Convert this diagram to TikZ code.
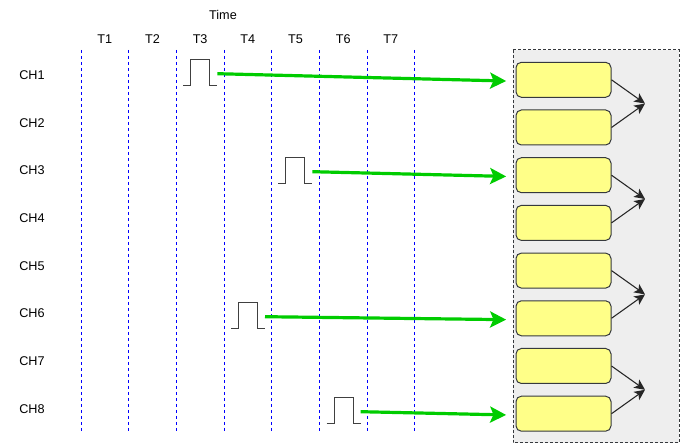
\documentclass[tikz,border=0pt]{standalone}
\usepackage{fontspec}
\setmainfont{Liberation Sans}
\usetikzlibrary{arrows.meta}
\definecolor{sigline}{HTML}{00CC00}
\definecolor{boxfill}{HTML}{FFFF88}
\definecolor{boxline}{HTML}{36393D}
\definecolor{panelfill}{HTML}{EEEEEE}
\definecolor{gridblue}{HTML}{0000FF}
\begin{document}
\begin{tikzpicture}[x=0.75pt,y=-0.75pt,
  lbl/.style={font=\fontsize{9.5}{11}\selectfont, inner sep=0pt},
  tline/.style={draw=gridblue, line width=0.75pt, dash pattern=on 2.25pt off 2.25pt},
  pulse/.style={draw=black!75, line width=0.9pt},
  sig/.style={draw=sigline, line width=2.4pt, -{Stealth[length=12pt,width=12pt,inset=2.5pt]}, shorten >=7pt},
  chbox/.style={draw=boxline, fill=boxfill, rounded corners=4pt, minimum width=71.25pt, minimum height=26.25pt, line width=0.75pt, inner sep=0pt},
  merge/.style={draw=black!85, line width=0.8pt, -{Stealth[length=8pt,width=7.5pt,inset=2pt]}},
  panel/.style={draw=boxline, fill=panelfill, dash pattern=on 2.25pt off 1.5pt, line width=0.75pt}
]
\useasboundingbox (0,0) rectangle (686,448);

% panel
\draw[panel] (513.3,50) rectangle (679,443);

% time grid
\node[lbl] (time) at (223,15) {Time};
\foreach \k/\gx in {0/81.5,1/128.5,2/176.5,3/224.5,4/271.5,5/319.5,6/367.5,7/414.5} {
  \coordinate (gt\k) at (\gx,50);
  \coordinate (gb\k) at (\gx,432);
  \draw[tline] (gt\k) -- (gb\k);
}
\foreach \i in {1,...,7} {
  \node[lbl] (t\i) at ({81+47.67*(\i-1)+23.8},39) {T\i};
}

% channel labels
\foreach \i in {1,...,8} {
  \node[lbl] (ch\i) at (32,{75+47.67*(\i-1)}) {CH\i};
}

% boxes
\foreach \i in {1,...,8} {
  \node[chbox] (b\i) at (563.5,{79.8+47.7*(\i-1)}) {};
}

% merge points and arrows
\foreach \j/\a/\b in {1/1/2,2/3/4,3/5/6,4/7/8} {
  \coordinate (m\j) at (645,{103.6+95.4*(\j-1)});
  \draw[merge] (b\a.east) -- (m\j);
  \draw[merge] (b\b.east) -- (m\j);
}

% pulses
\foreach \n/\x/\y in {1/183.3/85.7, 3/278.3/183.7, 6/231/328.7, 8/326.7/423.7} {
  \draw[pulse] (\x,\y) -- ++(7.5,0) -- ++(0,-26) -- ++(19,0) -- ++(0,26) -- ++(7.5,0);
  \coordinate (p\n) at ({\x+34},{\y-12}) ;
}

% signal arrows
\draw[sig] (p1) -- ([yshift=-1.1pt]b1.west);
\draw[sig] (p3) -- ([yshift=-1.1pt]b3.west);
\draw[sig] (p6) -- ([yshift=-1.1pt]b6.west);
\draw[sig] (p8) -- ([yshift=-1.1pt]b8.west);
\end{tikzpicture}
\end{document}
